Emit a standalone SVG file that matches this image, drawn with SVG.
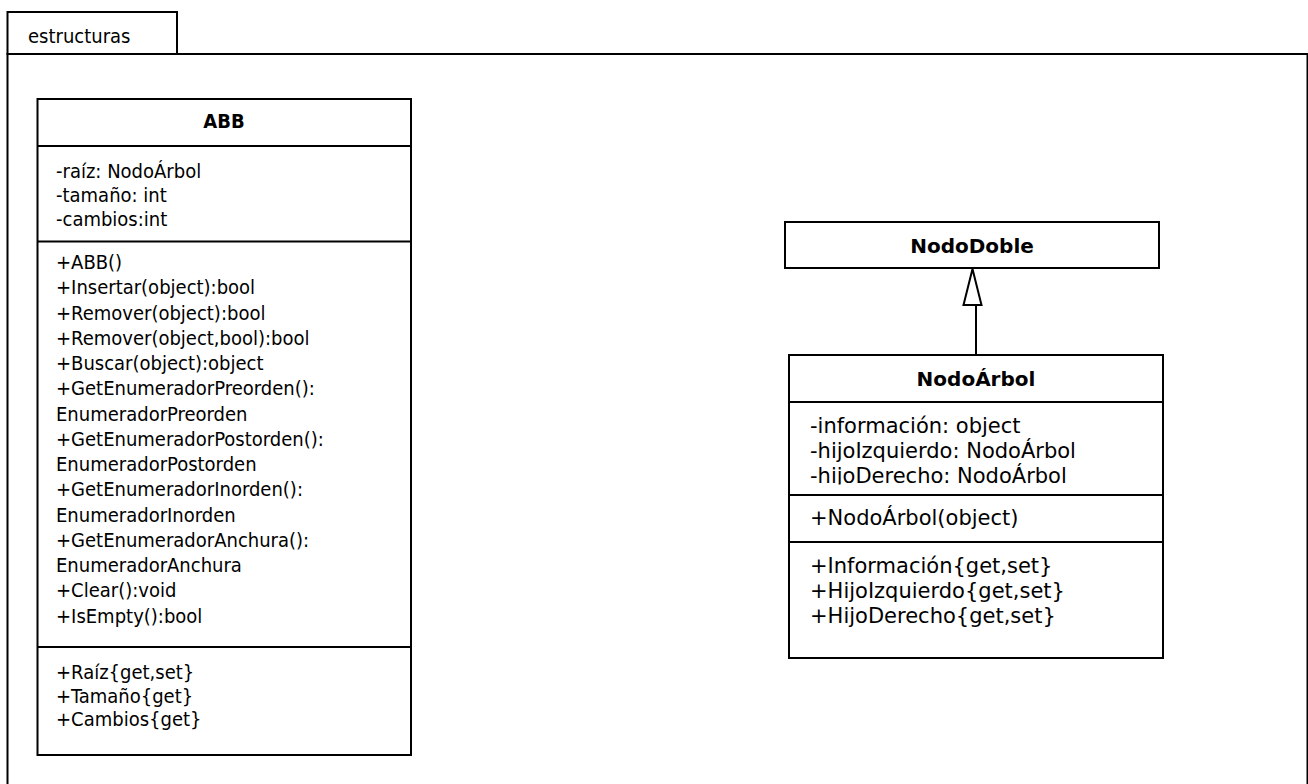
<svg xmlns="http://www.w3.org/2000/svg" width="1308" height="784" viewBox="0 0 1308 784">
  <style>
    .box { fill: #ffffff; stroke: #000000; stroke-width: 2; }
    .ln { stroke: #000000; stroke-width: 2; fill: none; }
    .t1 { font-family: "DejaVu Sans Condensed", "DejaVu Sans", sans-serif; font-stretch: condensed; font-size: 20px; fill: #000; }
    .t1b { font-family: "DejaVu Sans Condensed", "DejaVu Sans", sans-serif; font-stretch: condensed; font-size: 20px; font-weight: bold; fill: #000; }
    .t2 { font-family: "DejaVu Sans", Verdana, sans-serif; font-size: 21px; fill: #000; }
    .t2b { font-family: "DejaVu Sans", Verdana, sans-serif; font-size: 20px; font-weight: bold; fill: #000; }
  </style>
  <defs>
    <clipPath id="clipAttr">
      <rect x="789" y="402" width="374" height="82.5"/>
    </clipPath>
  </defs>
  <rect x="0" y="0" width="1308" height="784" fill="#ffffff"/>

  <g id="package-estructuras">
    <rect class="box" x="7.5" y="12" width="169.5" height="42"/>
    <rect class="box" x="7.5" y="54" width="1300" height="740"/>
    <text class="t1" x="28" y="43">estructuras</text>
  </g>

  <g id="class-ABB">
    <rect class="box" x="37.5" y="99" width="373.5" height="656"/>
    <line class="ln" x1="37.5" y1="146" x2="411" y2="146"/>
    <line class="ln" x1="37.5" y1="241.5" x2="411" y2="241.5"/>
    <line class="ln" x1="37.5" y1="647" x2="411" y2="647"/>
    <text class="t1b" x="224" y="128" text-anchor="middle">ABB</text>
    <text class="t1" x="56" y="177.5">-raíz: NodoÁrbol</text>
    <text class="t1" x="56" y="201.5">-tamaño: int</text>
    <text class="t1" x="56" y="225.5">-cambios:int</text>
    <text class="t1" x="56" y="269">+ABB()</text>
    <text class="t1" x="56" y="294.25">+Insertar(object):bool</text>
    <text class="t1" x="56" y="319.5">+Remover(object):bool</text>
    <text class="t1" x="56" y="344.75">+Remover(object,bool):bool</text>
    <text class="t1" x="56" y="370">+Buscar(object):object</text>
    <text class="t1" x="56" y="395.25">+GetEnumeradorPreorden():</text>
    <text class="t1" x="56" y="420.5">EnumeradorPreorden</text>
    <text class="t1" x="56" y="445.75">+GetEnumeradorPostorden():</text>
    <text class="t1" x="56" y="471">EnumeradorPostorden</text>
    <text class="t1" x="56" y="496.25">+GetEnumeradorInorden():</text>
    <text class="t1" x="56" y="521.5">EnumeradorInorden</text>
    <text class="t1" x="56" y="546.75">+GetEnumeradorAnchura():</text>
    <text class="t1" x="56" y="572">EnumeradorAnchura</text>
    <text class="t1" x="56" y="597.25">+Clear():void</text>
    <text class="t1" x="56" y="622.5">+IsEmpty():bool</text>
    <text class="t1" x="56" y="679">+Raíz{get,set}</text>
    <text class="t1" x="56" y="702.5">+Tamaño{get}</text>
    <text class="t1" x="56" y="726">+Cambios{get}</text>
  </g>

  <g id="class-NodoDoble">
    <rect class="box" x="785" y="222" width="374" height="46"/>
    <text class="t2b" x="972" y="253" text-anchor="middle">NodoDoble</text>
  </g>

  <g id="class-NodoArbol">
    <rect class="box" x="789" y="355" width="374" height="303"/>
    <line class="ln" x1="789" y1="402" x2="1163" y2="402"/>
    <line class="ln" x1="789" y1="495" x2="1163" y2="495"/>
    <line class="ln" x1="789" y1="542" x2="1163" y2="542"/>
    <text class="t2b" x="976" y="386" text-anchor="middle">NodoÁrbol</text>
    <g clip-path="url(#clipAttr)">
      <text class="t2" x="810" y="433">-información: object</text>
      <text class="t2" x="810" y="458">-hijoIzquierdo: NodoÁrbol</text>
      <text class="t2" x="810" y="483">-hijoDerecho: NodoÁrbol</text>
    </g>
    <text class="t2" x="810" y="525">+NodoÁrbol(object)</text>
    <text class="t2" x="810" y="573">+Información{get,set}</text>
    <text class="t2" x="810" y="598">+HijoIzquierdo{get,set}</text>
    <text class="t2" x="810" y="623">+HijoDerecho{get,set}</text>
  </g>

  <g id="connectors">
    <line class="ln" x1="976" y1="305" x2="976" y2="355"/>
    <polygon points="972.5,269 963.5,305 981.5,305" fill="#ffffff" stroke="#000000" stroke-width="2" stroke-linejoin="miter"/>
  </g>
</svg>
